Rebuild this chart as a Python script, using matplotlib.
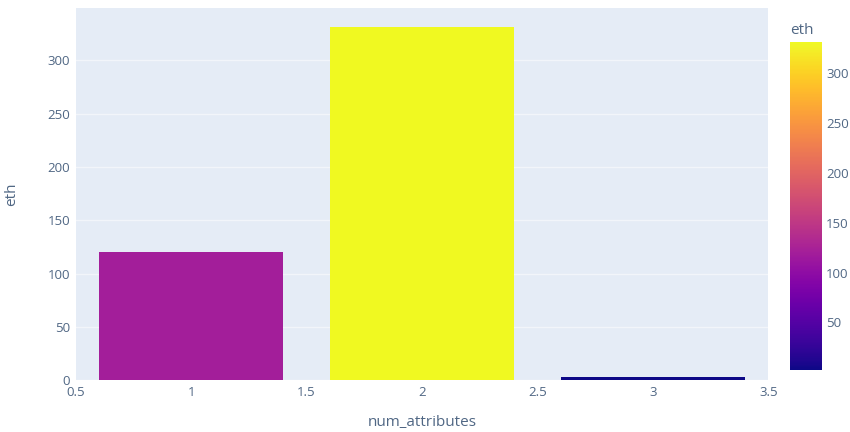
import matplotlib.pyplot as plt
import matplotlib as mpl
import numpy as np

plt.rcParams['font.family'] = ['Open Sans', 'DejaVu Sans']

num_attributes = [1, 2, 3]
eth = [120.5, 331.5, 2.5]

txt = '#506784'
bg = '#E5ECF6'

fig = plt.figure(figsize=(8.5, 4.32), dpi=100)
ax = fig.add_axes([0.089, 0.12, 0.815, 0.861])
cax = fig.add_axes([0.929, 0.144, 0.038, 0.759])

norm = mpl.colors.Normalize(vmin=min(eth), vmax=max(eth))
cmap = plt.get_cmap('plasma')
ax.bar(num_attributes, eth, width=0.8, color=cmap(norm(np.array(eth))), zorder=3)

ax.set_facecolor(bg)
ax.set_xlim(0.5, 3.5)
ax.set_ylim(0, 349)
ax.set_xticks([0.5, 1, 1.5, 2, 2.5, 3, 3.5])
ax.set_xticklabels(['0.5', '1', '1.5', '2', '2.5', '3', '3.5'])
ax.set_yticks([0, 50, 100, 150, 200, 250, 300])
# plotly style: only horizontal grid
ax.grid(axis='y', color='#F2F5FA', linewidth=1, zorder=0)
for s in ax.spines.values():
    s.set_visible(False)
ax.tick_params(length=0, colors=txt, labelsize=9.5, pad=4)
ax.set_xlabel('num_attributes', color=txt, fontsize=11, labelpad=12)
ax.set_ylabel('eth', color=txt, fontsize=11, labelpad=20)

cb = fig.colorbar(mpl.cm.ScalarMappable(norm=norm, cmap=cmap), cax=cax)
cb.outline.set_visible(False)
cb.set_ticks([50, 100, 150, 200, 250, 300])
cax.tick_params(length=0, colors=txt, labelsize=9.5, pad=3)
cax.set_title('eth', color=txt, fontsize=11, loc='left', pad=6)

fig.savefig('out.png', dpi=100)
